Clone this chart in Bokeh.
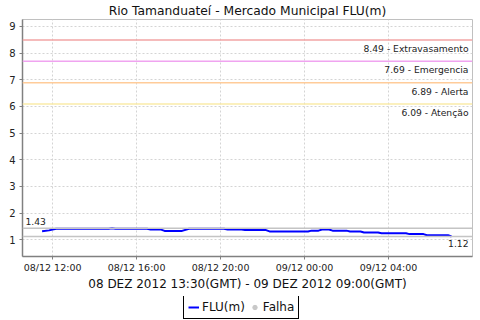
import pandas as pd
from bokeh.plotting import figure
from bokeh.layouts import column
from bokeh.models import (ColumnDataSource, Span, Label, Legend, LegendItem,
                          FixedTicker, Range1d)
from bokeh.embed import file_html
from bokeh.resources import INLINE

title_text = "Rio Tamanduateí - Mercado Municipal FLU(m)"
period_text = "08 DEZ 2012 13:30(GMT) - 09 DEZ 2012 09:00(GMT)"

times = [
    "2012-12-08 11:30", "2012-12-08 11:50", "2012-12-08 12:10", "2012-12-08 14:40",
    "2012-12-08 14:50", "2012-12-08 15:00", "2012-12-08 16:30", "2012-12-08 16:40",
    "2012-12-08 17:10", "2012-12-08 17:20", "2012-12-08 18:10", "2012-12-08 18:30",
    "2012-12-08 20:10", "2012-12-08 20:20", "2012-12-08 21:00", "2012-12-08 21:10",
    "2012-12-08 22:10", "2012-12-08 22:20", "2012-12-09 00:10", "2012-12-09 00:20",
    "2012-12-09 00:40", "2012-12-09 00:50", "2012-12-09 01:10", "2012-12-09 01:20",
    "2012-12-09 02:00", "2012-12-09 02:10", "2012-12-09 02:40", "2012-12-09 02:50",
    "2012-12-09 03:30", "2012-12-09 03:40", "2012-12-09 04:50", "2012-12-09 05:00",
    "2012-12-09 05:40", "2012-12-09 05:50", "2012-12-09 06:50", "2012-12-09 07:00",
]
levels = [
    1.32, 1.35, 1.41, 1.41,
    1.43, 1.41, 1.41, 1.38,
    1.38, 1.33, 1.33, 1.41,
    1.41, 1.38, 1.38, 1.36,
    1.36, 1.31, 1.31, 1.34,
    1.34, 1.38, 1.38, 1.34,
    1.34, 1.31, 1.31, 1.27,
    1.27, 1.24, 1.24, 1.21,
    1.21, 1.17, 1.17, 1.12,
]
# no failure readings in this period
fail_times = [float("nan")]
fail_levels = [float("nan")]

series_label = "FLU(m)"
fail_label = "Falha"

threshold_values = [8.49, 7.69, 6.89, 6.09]
threshold_names = ["Extravasamento", "Emergencia", "Alerta", "Atenção"]
threshold_colors = ["#F2A4A4", "#F0A4F0", "#FFCC99", "#FAEBA8"]

tick_times = ["2012-12-08 12:00", "2012-12-08 16:00", "2012-12-08 20:00",
              "2012-12-09 00:00", "2012-12-09 04:00"]
tick_labels = ["08/12 12:00", "08/12 16:00", "08/12 20:00",
               "09/12 00:00", "09/12 04:00"]
y_ticks = [1, 2, 3, 4, 5, 6, 7, 8, 9]

x_start = "2012-12-08 10:34"
x_end = "2012-12-09 08:00"
y_start, y_end = 0.37, 9.26


def ms(t):
    return pd.Timestamp(t).value // 10**6


FONT = "DejaVu Sans"
LINE_STYLE = dict(line_color="#0000FF", line_width=2)
FAIL_STYLE = dict(size=7, marker="circle", fill_color="#C8C8C8", line_color="#C8C8C8")

src = ColumnDataSource(data=dict(t=[ms(t) for t in times], v=levels))
fail_src = ColumnDataSource(data=dict(t=fail_times, v=fail_levels))

p = figure(width=480, height=296, output_backend="svg", toolbar_location=None,
           x_range=Range1d(ms(x_start), ms(x_end)), y_range=Range1d(y_start, y_end),
           min_border_left=22, min_border_right=8, min_border_top=19,
           min_border_bottom=40, background_fill_color="white",
           border_fill_color="white", outline_line_color="#C0C0C0")

p.title.text = title_text
p.title.align = "center"
p.title.text_font = FONT
p.title.text_font_size = "12.3px"
p.title.text_font_style = "normal"
p.title.text_color = "#111111"
p.title.standoff = 3
p.title.offset = -7

for ax in (p.xaxis[0], p.yaxis[0]):
    ax.axis_line_color = "#808080"
    ax.axis_line_width = 1.5
    ax.major_tick_line_color = "#808080"
    ax.major_tick_out = 3
    ax.major_tick_in = 0
    ax.minor_tick_line_color = None
    ax.major_label_text_font = FONT
    ax.major_label_text_color = "#222222"

p.yaxis.ticker = FixedTicker(ticks=y_ticks)
p.yaxis.major_label_text_font_size = "10px"
p.yaxis.major_label_standoff = 4

tick_ms = [ms(t) for t in tick_times]
p.xaxis.ticker = FixedTicker(ticks=tick_ms)
p.xaxis.major_label_overrides = {m: lab for m, lab in zip(tick_ms, tick_labels)}
p.xaxis.major_label_text_font_size = "9.5px"
p.xaxis.major_label_standoff = 2
p.xaxis.axis_label = period_text
p.xaxis.axis_label_text_font = FONT
p.xaxis.axis_label_text_font_size = "12px"
p.xaxis.axis_label_text_font_style = "normal"
p.xaxis.axis_label_text_color = "#111111"
p.xaxis.axis_label_standoff = 1

for g in (p.xgrid[0], p.ygrid[0]):
    g.grid_line_color = "#D4D4D4"
    g.grid_line_dash = "2 2"
    g.grid_line_width = 1
p.ygrid.ticker = FixedTicker(ticks=y_ticks)
p.xgrid.ticker = FixedTicker(ticks=tick_ms)

for val, name, col in zip(threshold_values, threshold_names, threshold_colors):
    p.add_layout(Span(location=val, dimension="width", line_color=col, line_width=1.5))
    p.add_layout(Label(x=ms(x_end), y=val, x_offset=-4, y_offset=-3,
                       text=f"{val:.2f} - {name}", text_align="right",
                       text_baseline="top", text_font=FONT,
                       text_font_size="9.2px", text_color="#222222"))

vmax, vmin = max(levels), min(levels)
p.add_layout(Span(location=vmax, dimension="width", line_color="#C4C4C4", line_width=1.5))
p.add_layout(Span(location=vmin, dimension="width", line_color="#C4C4C4", line_width=1.5))
p.add_layout(Label(x=ms(x_start), y=vmax, x_offset=3, y_offset=3,
                   text=f"{vmax:.2f}", text_align="left", text_baseline="bottom",
                   text_font=FONT, text_font_size="9.2px", text_color="#222222"))
p.add_layout(Label(x=ms(x_end), y=vmin, x_offset=-4, y_offset=-3,
                   text=f"{vmin:.2f}", text_align="right", text_baseline="top",
                   text_font=FONT, text_font_size="9.2px", text_color="#222222"))

p.line("t", "v", source=src, **LINE_STYLE)
p.scatter("t", "v", source=fail_src, **FAIL_STYLE)

# legend strip below the chart
lp = figure(width=480, height=24, output_backend="svg", toolbar_location=None,
            x_axis_location=None, y_axis_location=None,
            x_range=Range1d(0, 1), y_range=Range1d(0, 1),
            min_border_left=22, min_border_right=8, min_border_top=0,
            min_border_bottom=0, outline_line_color=None,
            background_fill_color="white", border_fill_color="white")
lp.grid.visible = False
leg_line = lp.line("t", "v", source=src, visible=False, **LINE_STYLE)
leg_fail = lp.scatter("t", "v", source=fail_src, visible=False, **FAIL_STYLE)

legend = Legend(items=[LegendItem(label=series_label, renderers=[leg_line]),
                       LegendItem(label=fail_label, renderers=[leg_fail])],
                orientation="horizontal", location=(161, 1),
                border_line_color="black", border_line_width=1.3,
                border_line_alpha=1.0,
                background_fill_color="white", background_fill_alpha=1,
                label_text_font=FONT, label_text_font_size="12px",
                label_text_color="#111111", glyph_width=11, glyph_height=14,
                label_height=14, label_standoff=3, spacing=4, padding=4,
                margin=0)
lp.add_layout(legend, "center")

layout = column(p, lp, spacing=0)
open("out.html", "w").write(file_html(layout, INLINE))
